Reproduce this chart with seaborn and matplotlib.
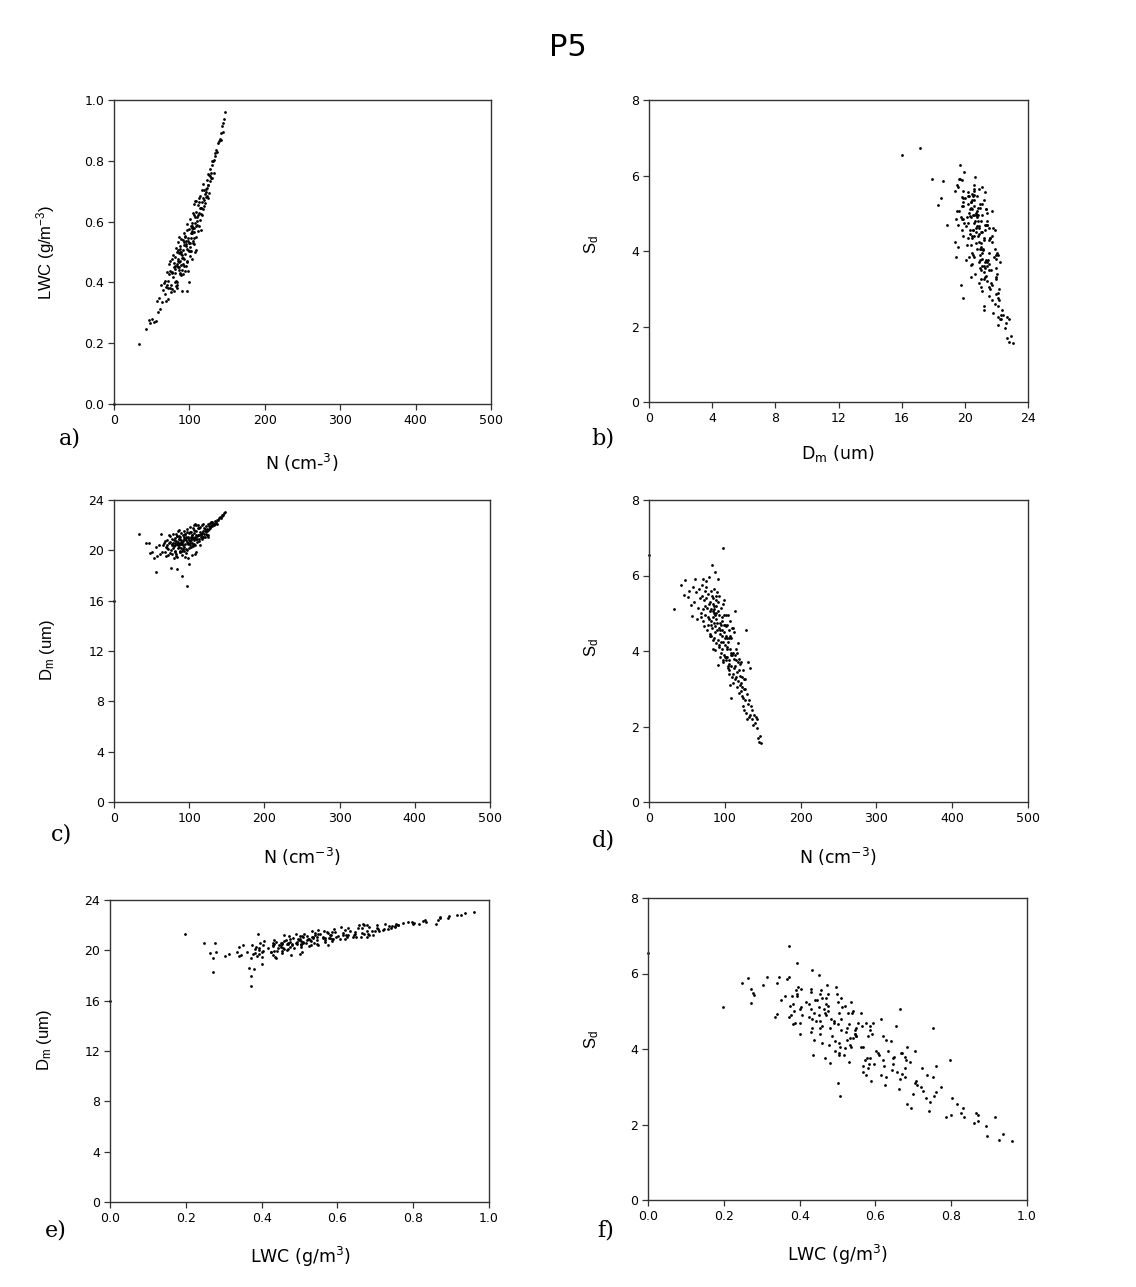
import matplotlib
matplotlib.use("Agg")
import matplotlib.pyplot as plt
import seaborn as sns
import pandas as pd

# ---- data: one row per sample (N, LWC, Dm, Sd) ----
n_conc = [0, 33.4, 55.2, 97.1, 75.3, 84.2, 90.4, 99.1,
          42.8, 46.3, 48.1, 50.9, 52.7, 56.4, 57.8, 59.6, 60.7, 62.3, 63.5, 64.8, 66.2, 67.4, 68.1, 69.3,
          70.2, 70.8, 71.5, 71.1, 72.6, 72.0, 73.4, 73.9, 74.3, 74.7, 75.8, 76.5, 76.9, 77.4, 77.2, 78.3,
          78.6, 79.1, 79.4, 79.9, 80.3, 68.9,
          80.6, 81.2, 81.7, 80.9, 82.4, 83.1, 82.9, 83.6, 84.0, 84.5, 85.3, 85.7, 86.1, 86.6, 87.3, 87.8,
          88.2, 88.5, 89.0, 89.4, 86.9, 87.6, 81.4, 83.9, 84.8, 85.9, 86.3, 82.1, 88.9, 89.7, 88.0, 84.3,
          85.1, 87.0,
          90.2, 90.7, 91.3, 91.8, 92.1, 92.6, 93.0, 93.5, 94.1, 94.4, 94.8, 95.2, 95.7, 96.1, 96.5, 96.9,
          97.4, 97.8, 98.1, 98.6, 99.0, 99.5, 100.2, 100.8, 101.3, 90.9, 92.9, 91.5, 93.8, 95.0, 96.3, 97.2,
          98.3, 93.3,
          101.9, 102.4, 102.9, 103.3, 103.8, 104.2, 104.7, 105.1, 105.6, 106.0, 106.4, 106.9, 107.3, 107.7,
          108.1, 108.6, 109.0, 109.5, 100.5, 101.6, 103.5, 104.9, 105.8, 106.7, 107.9, 108.4, 102.2, 100.0,
          101.0, 104.0, 106.2, 109.2, 103.0,
          110.3, 110.8, 111.2, 111.7, 112.1, 112.6, 113.0, 113.5, 113.9, 114.3, 114.8, 115.2, 115.6, 116.0,
          116.5, 116.9, 117.3, 117.8, 118.2, 118.6, 119.0, 119.4, 119.9, 120.4, 110.5, 112.9,
          121.0, 121.5, 122.0, 122.4, 122.9, 123.3, 123.8, 124.2, 124.6, 125.1, 125.6, 126.2, 126.8, 127.3,
          127.9, 128.3, 128.8, 129.4, 124.9,
          130.0, 130.6, 131.3, 132.1, 132.9, 133.8, 134.6, 135.7, 136.5, 137.6, 138.7,
          140.2, 141.3, 142.1, 143.0, 143.9, 145.0, 145.8, 147.1]

lwc = [0.000, 0.197, 0.272, 0.372, 0.368, 0.381, 0.372, 0.402,
       0.248, 0.277, 0.265, 0.279, 0.271, 0.340, 0.303, 0.350, 0.313, 0.390, 0.335, 0.375, 0.397, 0.362, 0.406, 0.340,
       0.392, 0.433, 0.346, 0.405, 0.459, 0.383, 0.429, 0.382, 0.438, 0.471, 0.393, 0.434, 0.476, 0.378, 0.430, 0.490,
       0.418, 0.451, 0.372, 0.465, 0.430, 0.384,
       0.445, 0.484, 0.404, 0.453, 0.512, 0.392, 0.460, 0.454, 0.401, 0.533, 0.470, 0.442, 0.496, 0.468, 0.510, 0.470,
       0.424, 0.542, 0.493, 0.457, 0.500, 0.432, 0.402, 0.501, 0.452, 0.548, 0.452, 0.389, 0.499, 0.480, 0.426, 0.506,
       0.476, 0.520,
       0.491, 0.440, 0.540, 0.505, 0.460, 0.564, 0.476, 0.523, 0.436, 0.493, 0.554, 0.519, 0.455, 0.536, 0.591, 0.510,
       0.467, 0.536, 0.437, 0.546, 0.504, 0.528, 0.486, 0.610, 0.530, 0.429, 0.532, 0.481, 0.550, 0.525, 0.470, 0.572,
       0.508, 0.454,
       0.545, 0.504, 0.594, 0.478, 0.568, 0.537, 0.627, 0.579, 0.526, 0.657, 0.566, 0.615, 0.500, 0.595,
       0.549, 0.632, 0.585, 0.615, 0.503, 0.586, 0.580, 0.531, 0.621, 0.546, 0.668, 0.507, 0.563, 0.575,
       0.518, 0.584, 0.580, 0.669, 0.562,
       0.602, 0.568, 0.655, 0.622, 0.677, 0.587, 0.628, 0.606, 0.646, 0.683, 0.574, 0.646, 0.626, 0.644,
       0.705, 0.621, 0.666, 0.640, 0.677, 0.725, 0.650, 0.671, 0.705, 0.691, 0.589, 0.664,
       0.662, 0.707, 0.681, 0.699, 0.737, 0.710, 0.684, 0.722, 0.755, 0.721, 0.695, 0.752, 0.734, 0.772,
       0.751, 0.742, 0.761, 0.785, 0.678,
       0.745, 0.798, 0.800, 0.802, 0.760, 0.827, 0.816, 0.835, 0.830, 0.860, 0.865,
       0.872, 0.870, 0.893, 0.915, 0.895, 0.925, 0.936, 0.960]

dm = [16.00, 21.32, 18.31, 17.15, 18.62, 18.52, 17.93, 18.88,
      20.60, 20.55, 19.80, 19.85, 19.40, 20.30, 19.55, 20.40, 19.70, 21.30, 19.90, 20.40, 20.60, 19.90, 20.78, 19.53,
      20.21, 20.82, 19.62, 20.45, 21.20, 20.09, 20.61, 19.82, 20.68, 21.10, 20.02, 20.53, 20.93, 19.74, 20.44, 21.32,
      20.22, 20.62, 19.43, 20.80, 20.31, 20.28,
      20.40, 21.01, 19.91, 20.60, 21.32, 19.68, 20.73, 20.49, 19.49, 21.50, 20.61, 20.21, 20.92, 20.52, 21.03, 20.47,
      19.83, 21.39, 20.70, 20.20, 20.90, 19.95, 19.90, 21.10, 20.40, 21.60, 20.30, 19.55, 20.80, 20.50, 19.86, 21.16,
      20.70, 21.16,
      20.60, 19.91, 21.22, 20.74, 20.14, 21.50, 20.27, 20.89, 19.44, 20.48, 21.29, 20.81, 19.81, 21.02, 21.73, 20.64,
      20.05, 20.96, 19.37, 21.08, 20.49, 20.82, 20.21, 21.82, 20.74, 19.60, 21.02, 20.42, 21.28, 20.90, 20.12, 21.43,
      20.56, 19.97,
      20.86, 20.28, 21.43, 19.59, 20.99, 20.57, 21.74, 20.97, 20.32, 22.03, 20.79, 21.41, 19.73, 21.08,
      20.44, 21.51, 20.87, 21.25, 20.42, 21.44, 21.21, 20.44, 21.59, 20.48, 22.09, 19.88, 21.06, 21.40,
      20.59, 21.22, 21.00, 21.98, 20.99,
      21.11, 20.63, 21.76, 21.25, 21.99, 20.73, 21.24, 20.93, 21.42, 21.88, 20.39, 21.31, 21.02, 21.24,
      22.01, 20.88, 21.40, 21.03, 21.50, 22.11, 21.07, 21.33, 21.74, 21.54, 20.92, 21.74,
      21.09, 21.66, 21.28, 21.50, 21.97, 21.56, 21.20, 21.67, 22.09, 21.60, 21.23, 21.95, 21.70, 22.19,
      21.89, 21.78, 22.00, 22.27, 21.04,
      21.90, 22.24, 22.08, 22.17, 22.00, 22.30, 22.08, 22.24, 22.38, 22.12, 22.43,
      22.58, 22.66, 22.55, 22.78, 22.70, 22.82, 22.93, 23.05]

sd = [6.55, 5.10, 5.21, 6.73, 5.86, 5.40, 5.90, 4.70,
      5.74, 5.49, 5.87, 5.43, 5.60, 4.93, 5.70, 5.30, 5.90, 5.55, 4.85, 5.15, 5.65, 5.40, 4.90, 5.75,
      5.45, 4.80, 5.90, 5.10, 5.35, 4.65, 5.60, 5.20, 4.95, 5.70, 5.40, 4.55, 5.15, 4.90, 5.50, 4.70,
      5.25, 5.95, 4.85, 5.05, 4.45, 5.00,
      5.30, 4.80, 5.60, 4.40, 5.10, 6.28, 4.60, 5.45, 5.05, 4.30, 5.20, 4.75, 5.65, 4.95, 4.50, 5.35,
      4.85, 5.00, 4.20, 5.55, 4.65, 6.10, 4.40, 5.25, 4.90, 4.35, 5.10, 4.70, 5.45, 4.55, 5.20, 4.05,
      5.00, 4.02,
      4.75, 5.30, 4.30, 4.95, 4.15, 4.60, 5.45, 4.45, 3.85, 3.95, 4.70, 5.15, 4.55, 4.05, 4.40, 4.80,
      3.75, 5.25, 4.25, 4.50, 3.90, 4.95, 4.35, 3.85, 4.65, 5.05, 4.10, 3.62, 4.55, 4.25, 4.90, 3.70,
      5.35, 4.75,
      4.40, 3.85, 4.70, 4.10, 3.55, 4.95, 4.25, 3.75, 4.55, 3.40, 4.05, 4.80, 3.10, 3.60,
      4.35, 3.95, 4.60, 3.30, 4.15, 3.75, 4.35, 3.65, 4.35, 4.40, 3.90, 2.75, 4.95, 4.70,
      3.85, 3.60, 3.50, 3.90, 4.05,
      3.95, 3.40, 4.60, 3.55, 3.80, 4.50, 3.25, 3.90, 3.60, 4.05, 3.30, 3.75, 3.05, 3.45,
      3.95, 3.70, 3.20, 4.20, 3.50, 2.90, 3.80, 3.35, 3.10, 3.65, 3.15, 5.06,
      2.95, 3.15, 3.70, 2.80, 3.30, 3.05, 2.55, 3.50, 2.75, 3.00, 2.45, 3.25, 2.70, 3.00,
      4.55, 2.35, 2.85, 2.20, 3.25,
      2.60, 3.70, 2.25, 2.70, 3.55, 2.30, 2.55, 2.20, 2.45, 2.05, 2.30,
      2.10, 2.25, 1.95, 2.20, 1.70, 1.60, 1.75, 1.55]

n_ticks = [0, 100, 200, 300, 400, 500]
lwc_ticks = [0.0, 0.2, 0.4, 0.6, 0.8, 1.0]
dm_ticks = [0, 4, 8, 12, 16, 20, 24]
sd_ticks = [0, 2, 4, 6, 8]

title = "P5"
label_n_a = "N (cm-$^{3}$)"
label_n = "N (cm$^{-3}$)"
label_lwc_y = "LWC (g/m$^{-3}$)"
label_lwc_x = "LWC (g/m$^{3}$)"
label_dm = "D$_{m}$ (um)"
label_sd = "S$_{d}$"

# ---- style ----
sns.set_style("ticks")
plt.rcParams["font.family"] = ["DejaVu Sans"]
plt.rcParams["mathtext.default"] = "regular"
plt.rcParams["text.color"] = "black"
plt.rcParams["axes.labelcolor"] = "black"
VERT_FONT = ["Liberation Sans", "DejaVu Sans"]
SERIF = ["DejaVu Serif"]

df = pd.DataFrame({"N": n_conc, "LWC": lwc, "Dm": dm, "Sd": sd})

W, H = 1136, 1287
fig = plt.figure(figsize=(W / 100, H / 100), dpi=100)


def frac_box(l, t, r, b):
    return [l / W, 1 - b / H, (r - l) / W, (b - t) / H]


panels = [
    dict(box=(114, 100, 491, 404), x="N", y="LWC", xt=n_ticks, yt=lwc_ticks,
         xf="{:.0f}", yf="{:.1f}", xl=label_n_a, yl=label_lwc_y, letter="a)",
         lxy=(70, 438), xlxy=(302, 463), ylxy=(46, 252)),
    dict(box=(649, 100, 1028, 402), x="Dm", y="Sd", xt=dm_ticks, yt=sd_ticks,
         xf="{:.0f}", yf="{:.0f}", xl=label_dm, yl=label_sd, letter="b)",
         lxy=(603, 438), xlxy=(838, 453), ylxy=(592, 245)),
    dict(box=(114, 500, 490, 802), x="N", y="Dm", xt=n_ticks, yt=dm_ticks,
         xf="{:.0f}", yf="{:.0f}", xl=label_n, yl=label_dm, letter="c)",
         lxy=(62, 834), xlxy=(302, 857), ylxy=(48, 650)),
    dict(box=(649, 500, 1028, 802), x="N", y="Sd", xt=n_ticks, yt=sd_ticks,
         xf="{:.0f}", yf="{:.0f}", xl=label_n, yl=label_sd, letter="d)",
         lxy=(603, 840), xlxy=(838, 857), ylxy=(592, 648)),
    dict(box=(110, 900, 489, 1202), x="LWC", y="Dm", xt=lwc_ticks, yt=dm_ticks,
         xf="{:.1f}", yf="{:.0f}", xl=label_lwc_x, yl=label_dm, letter="e)",
         lxy=(56, 1230), xlxy=(300, 1257), ylxy=(44, 1040)),
    dict(box=(648, 898, 1027, 1200), x="LWC", y="Sd", xt=lwc_ticks, yt=sd_ticks,
         xf="{:.1f}", yf="{:.0f}", xl=label_lwc_x, yl=label_sd, letter="f)",
         lxy=(606, 1230), xlxy=(837, 1255), ylxy=(592, 1040)),
]

spine_col = "#333333"
for p in panels:
    l, t, r, b = p["box"]
    ax = fig.add_axes(frac_box(l, t, r, b))
    sns.scatterplot(data=df, x=p["x"], y=p["y"], ax=ax, s=4, color="black",
                    linewidth=0, marker="o", clip_on=False)
    ax.set_xlim(p["xt"][0], p["xt"][-1])
    ax.set_ylim(p["yt"][0], p["yt"][-1])
    ax.set_xticks(p["xt"])
    ax.set_yticks(p["yt"])
    ax.set_xticklabels([p["xf"].format(v) for v in p["xt"]])
    ax.set_yticklabels([p["yf"].format(v) for v in p["yt"]])
    ax.tick_params(direction="out", length=4, width=0.9, colors=spine_col,
                   labelcolor="black", labelsize=9, pad=3)
    for s in ax.spines.values():
        s.set_visible(True)
        s.set_color(spine_col)
        s.set_linewidth(1.0)
    ax.set_xlabel(p["xl"], fontsize=12.5, color="black")
    ax.set_ylabel(p["yl"], fontsize=12, fontfamily=VERT_FONT, color="black")
    ax.xaxis.label.set_va("center")
    ax.yaxis.label.set_va("center")
    xlx, xly = p["xlxy"]
    ylx, yly = p["ylxy"]
    ax.xaxis.set_label_coords((xlx - l) / (r - l), (b - xly) / (b - t))
    ax.yaxis.set_label_coords((ylx - l) / (r - l), (b - yly) / (b - t))
    lx, ly = p["lxy"]
    fig.text(lx / W, 1 - ly / H, p["letter"], fontsize=16, color="black",
             family=SERIF, ha="center", va="center")

fig.text(568 / W, 1 - 48 / H, title, fontsize=22, color="black",
         ha="center", va="center")

fig.savefig("out.png", dpi=100, facecolor="white")
